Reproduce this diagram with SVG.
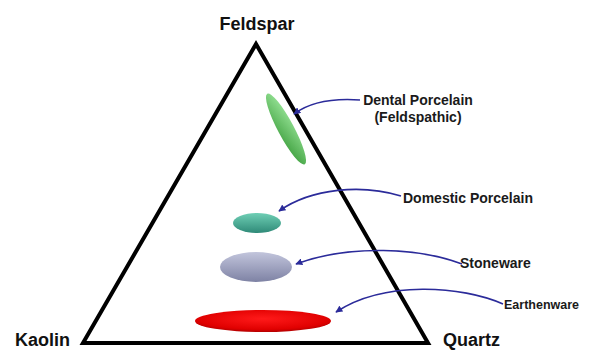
<svg xmlns="http://www.w3.org/2000/svg" width="591" height="351" viewBox="0 0 591 351">
<style>
.lbl{font-family:"Liberation Sans",Arial,sans-serif;font-weight:bold;fill:#1a1a1a;font-size:14px}
.vtx{font-family:"Liberation Sans",Arial,sans-serif;font-weight:bold;fill:#111;font-size:18px}
.con{fill:none;stroke:#2b2b9a;stroke-width:1.6}
</style>
<defs>
<marker id="ah" viewBox="0 0 10 10" refX="9" refY="5" markerWidth="7" markerHeight="7" orient="auto" markerUnits="userSpaceOnUse">
<path d="M0,0 L10,5 L0,10 z" fill="#2b2b9a"/>
</marker>
<linearGradient id="gGreen" x1="0" y1="0" x2="1" y2="1"><stop offset="0" stop-color="#9be69b"/><stop offset="1" stop-color="#3c9e3c"/></linearGradient>
<linearGradient id="gTeal" x1="0" y1="0" x2="0" y2="1"><stop offset="0" stop-color="#6fcfb5"/><stop offset="1" stop-color="#2f8a78"/></linearGradient>
<linearGradient id="gSlate" x1="0" y1="0" x2="0" y2="1"><stop offset="0" stop-color="#c2c5dc"/><stop offset="1" stop-color="#7e82a4"/></linearGradient>
<radialGradient id="gRed" cx="0.5" cy="0.4" r="0.6"><stop offset="0" stop-color="#ff1a1a"/><stop offset="0.8" stop-color="#e00000"/><stop offset="1" stop-color="#b30000"/></radialGradient>
</defs>
<rect width="591" height="351" fill="#ffffff"/>
<g id="triangle">
<polygon points="256,44 83,343 428,343" fill="none" stroke="#000" stroke-width="4" stroke-linejoin="miter"/>
</g>
<g id="feldspar"><text class="vtx" x="257" y="30" text-anchor="middle">Feldspar</text></g>
<g id="kaolin"><text class="vtx" x="15" y="346">Kaolin</text></g>
<g id="quartz"><text class="vtx" x="443" y="346">Quartz</text></g>
<g id="dental">
<ellipse cx="286" cy="129" rx="40" ry="8" transform="rotate(62 286 129)" fill="url(#gGreen)"/>
<text class="lbl" x="418" y="105" text-anchor="middle">Dental Porcelain</text>
<text class="lbl" x="418" y="122" text-anchor="middle">(Feldspathic)</text>
</g>
<g id="domestic">
<ellipse cx="257" cy="223" rx="24" ry="10" fill="url(#gTeal)"/>
<text class="lbl" x="403" y="203">Domestic Porcelain</text>
</g>
<g id="stoneware">
<ellipse cx="256" cy="267" rx="36" ry="15" fill="url(#gSlate)"/>
<text class="lbl" x="460" y="268">Stoneware</text>
</g>
<g id="earthenware">
<ellipse cx="263" cy="321" rx="68" ry="11" fill="url(#gRed)"/>
<text class="lbl" x="504" y="309" style="font-size:12.5px">Earthenware</text>
</g>
<g id="connectors">
<path class="con" d="M360,100 C332,98 310,102 294,114" marker-end="url(#ah)"/>
<path class="con" d="M401,196 C362,184 312,188 279,211" marker-end="url(#ah)"/>
<path class="con" d="M462,264 C420,248 350,244 296,264" marker-end="url(#ah)"/>
<path class="con" d="M503,304 C462,286 385,280 336,312" marker-end="url(#ah)"/>
</g>
</svg>
